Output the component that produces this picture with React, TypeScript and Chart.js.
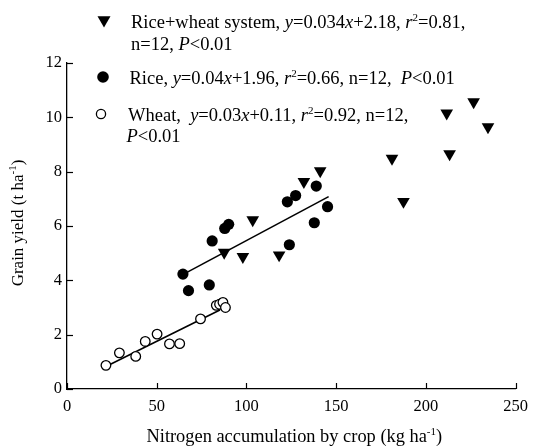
import React, { useEffect, useRef } from "react";
import { Chart, registerables } from "chart.js";

Chart.register(...registerables);

// ---- data ----
const riceWheatX = [87.6, 98.0, 103.5, 118.2, 132.0, 141.1, 181.1, 187.5, 213.2, 211.6, 226.6, 234.6];
const riceWheatY = [5.03, 4.87, 6.22, 4.93, 7.63, 8.03, 8.49, 6.9, 8.65, 10.15, 10.57, 9.65];
const riceX = [64.6, 67.7, 79.3, 80.9, 87.9, 90.1, 122.8, 127.4, 123.9, 138.9, 145.2, 137.8];
const riceY = [4.23, 3.62, 3.83, 5.45, 5.91, 6.06, 6.89, 7.12, 5.31, 7.47, 6.71, 6.12];
const wheatX = [21.7, 29.2, 38.3, 43.6, 50.2, 57.1, 62.8, 74.4, 83.2, 85.0, 86.9, 88.3];
const wheatY = [0.87, 1.33, 1.2, 1.75, 2.02, 1.66, 1.67, 2.58, 3.08, 3.12, 3.19, 3.0];
const riceFitX = [65, 145.8];
const riceFitY = [4.23, 7.08];
const wheatFitX = [21.7, 85.2];
const wheatFitY = [0.83, 2.91];
const xTicks = [0, 50, 100, 150, 200, 250];
const yTicks = [0, 2, 4, 6, 8, 10, 12];

const FAM = '"Liberation Serif", "Times New Roman", serif';

type Seg = { t: string; i?: boolean; s?: boolean };

const legendLines: { segs: Seg[]; x: number; y: number }[] = [
  {
    segs: [
      { t: "Rice+wheat system, " }, { t: "y", i: true }, { t: "=0.034" }, { t: "x", i: true },
      { t: "+2.18, " }, { t: "r", i: true }, { t: "2", s: true }, { t: "=0.81," },
    ],
    x: 131, y: 28,
  },
  { segs: [{ t: "n=12, " }, { t: "P", i: true }, { t: "<0.01" }], x: 131, y: 50 },
  {
    segs: [
      { t: "Rice, " }, { t: "y", i: true }, { t: "=0.04" }, { t: "x", i: true }, { t: "+1.96, " },
      { t: "r", i: true }, { t: "2", s: true }, { t: "=0.66, n=12,  " }, { t: "P", i: true }, { t: "<0.01" },
    ],
    x: 129.5, y: 84,
  },
  {
    segs: [
      { t: "Wheat,  " }, { t: "y", i: true }, { t: "=0.03" }, { t: "x", i: true }, { t: "+0.11, " },
      { t: "r", i: true }, { t: "2", s: true }, { t: "=0.92, n=12," },
    ],
    x: 128, y: 121,
  },
  { segs: [{ t: "P", i: true }, { t: "<0.01" }], x: 126.5, y: 142 },
];

const xTitle: Seg[] = [{ t: "Nitrogen accumulation by crop (kg ha" }, { t: "-1", s: true }, { t: ")" }];
const yTitle: Seg[] = [{ t: "Grain yield (t ha" }, { t: "-1", s: true }, { t: ")" }];

function drawRich(ctx: CanvasRenderingContext2D, segs: Seg[], x: number, y: number, size: number, center: boolean) {
  const fontFor = (g: Seg) => `${g.i ? "italic " : ""}${g.s ? Math.round(size * 0.62) : size}px ${FAM}`;
  let total = 0;
  for (const g of segs) {
    ctx.font = fontFor(g);
    total += ctx.measureText(g.t).width;
  }
  let cx = center ? x - total / 2 : x;
  ctx.textAlign = "left";
  ctx.textBaseline = "alphabetic";
  for (const g of segs) {
    ctx.font = fontFor(g);
    ctx.fillText(g.t, cx, g.s ? y - size * 0.4 : y);
    cx += ctx.measureText(g.t).width;
  }
}

const decorPlugin = {
  id: "decor",
  afterDraw(chart: any) {
    const ctx: CanvasRenderingContext2D = chart.ctx;
    const xs = chart.scales.x;
    const ys = chart.scales.y;
    const area = chart.chartArea;
    ctx.save();
    ctx.strokeStyle = "#000";
    ctx.lineWidth = 1.2;
    // inward tick marks
    for (const v of xTicks) {
      const px = Math.round(xs.getPixelForValue(v)) + 0.5;
      ctx.beginPath();
      ctx.moveTo(px, area.bottom);
      ctx.lineTo(px, area.bottom - 6);
      ctx.stroke();
    }
    for (const v of yTicks) {
      const py = Math.round(ys.getPixelForValue(v)) + 0.5;
      ctx.beginPath();
      ctx.moveTo(area.left, py);
      ctx.lineTo(area.left + 6, py);
      ctx.stroke();
    }
    ctx.fillStyle = "#000";
    // axis titles
    drawRich(ctx, xTitle, (area.left + area.right) / 2 + 3, 442, 18.4, true);
    ctx.save();
    ctx.translate(23, (area.top + area.bottom) / 2 - 3);
    ctx.rotate(-Math.PI / 2);
    drawRich(ctx, yTitle, 0, 0, 17, true);
    ctx.restore();
    // legend markers
    ctx.fillStyle = "#000";
    ctx.strokeStyle = "#000";
    ctx.beginPath();
    const tr = 7.5;
    const tx = 104, ty = 20;
    ctx.moveTo(tx - tr * 0.866, ty - tr * 0.5);
    ctx.lineTo(tx + tr * 0.866, ty - tr * 0.5);
    ctx.lineTo(tx, ty + tr);
    ctx.closePath();
    ctx.fill();
    ctx.beginPath();
    ctx.arc(103, 77, 5.8, 0, Math.PI * 2);
    ctx.fill();
    ctx.beginPath();
    ctx.lineWidth = 1.3;
    ctx.arc(101, 114, 4.6, 0, Math.PI * 2);
    ctx.fillStyle = "#fff";
    ctx.fill();
    ctx.stroke();
    ctx.fillStyle = "#000";
    for (const l of legendLines) drawRich(ctx, l.segs, l.x, l.y, 18.5, false);
    ctx.restore();
  },
};

export default function App() {
  const ref = useRef<HTMLCanvasElement | null>(null);
  useEffect(() => {
    document.body.style.margin = "0";
    const pts = (xs: number[], ys: number[]) => xs.map((x, i) => ({ x, y: ys[i] }));
    const chart = new Chart(ref.current!, {
      type: "scatter",
      data: {
        datasets: [
          {
            label: "Rice fit",
            data: pts(riceFitX, riceFitY),
            showLine: true,
            pointRadius: 0,
            borderColor: "#000",
            borderWidth: 1.6,
            order: 5,
          } as any,
          {
            label: "Wheat fit",
            data: pts(wheatFitX, wheatFitY),
            showLine: true,
            pointRadius: 0,
            borderColor: "#000",
            borderWidth: 1.6,
            order: 5,
          } as any,
          {
            label: "Rice+wheat system",
            data: pts(riceWheatX, riceWheatY),
            pointStyle: "triangle",
            rotation: 180,
            pointRadius: 7.3,
            backgroundColor: "#000",
            borderColor: "#000",
            borderWidth: 0,
            order: 1,
          } as any,
          {
            label: "Rice",
            data: pts(riceX, riceY),
            pointStyle: "circle",
            pointRadius: 5.6,
            backgroundColor: "#000",
            borderColor: "#000",
            borderWidth: 0,
            order: 1,
          } as any,
          {
            label: "Wheat",
            data: pts(wheatX, wheatY),
            pointStyle: "circle",
            pointRadius: 4.8,
            backgroundColor: "#fff",
            borderColor: "#000",
            borderWidth: 1.3,
            order: 2,
          } as any,
        ],
      },
      options: {
        responsive: false,
        animation: false,
        devicePixelRatio: 1,
        layout: { padding: { top: 63, right: 15, left: 0, bottom: 0 } },
        plugins: { legend: { display: false }, tooltip: { enabled: false } },
        scales: {
          x: {
            type: "linear",
            min: 0,
            max: 250,
            afterFit: (s: any) => { s.height = 59; },
            afterBuildTicks: (s: any) => { s.ticks = xTicks.map((v) => ({ value: v })); },
            ticks: { color: "#000", font: { family: FAM, size: 16.5 }, padding: 8, maxRotation: 0 },
            grid: { display: false, drawTicks: false },
            border: { display: true, color: "#000", width: 1.3 },
          },
          y: {
            type: "linear",
            min: 0,
            max: 12,
            afterFit: (s: any) => { s.width = 67; },
            afterBuildTicks: (s: any) => { s.ticks = yTicks.map((v) => ({ value: v })); },
            ticks: { color: "#000", font: { family: FAM, size: 16.5 }, padding: 5 },
            grid: { display: false, drawTicks: false },
            border: { display: true, color: "#000", width: 1.3 },
          },
        },
      },
      plugins: [decorPlugin],
    });
    return () => chart.destroy();
  }, []);
  return (
    <div style={{ position: "fixed", left: 0, top: 0, width: 536, height: 448, background: "#fff" }}>
      <canvas ref={ref} width={536} height={448} />
    </div>
  );
}
